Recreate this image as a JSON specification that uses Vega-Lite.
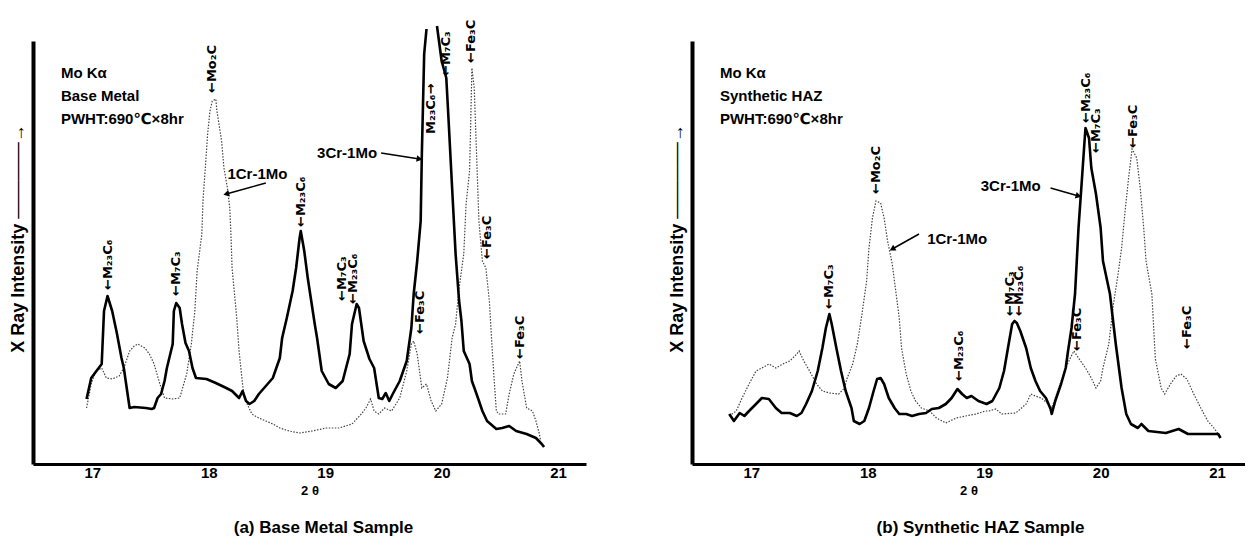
{
"$schema":"https://vega.github.io/schema/vega-lite/v6.json",
"background":"white",
"padding":{"left":9,"top":19,"right":0,"bottom":0},
"spacing":82,
"config":{"view":{"stroke":null},"axis":{"grid":false,"domainColor":"black","titleColor":"black","labelColor":"black","labelFont":"Liberation Sans","titleFont":"Liberation Sans, DejaVu Sans"}},
"datasets":{
"curves":[
{"p":"a","s":"3Cr-1Mo","g":1,"x":16.95,"y":65},{"p":"a","s":"3Cr-1Mo","g":1,"x":16.99,"y":86},{"p":"a","s":"3Cr-1Mo","g":1,"x":17.08,"y":100},{"p":"a","s":"3Cr-1Mo","g":1,"x":17.10,"y":153},{"p":"a","s":"3Cr-1Mo","g":1,"x":17.13,"y":168},{"p":"a","s":"3Cr-1Mo","g":1,"x":17.17,"y":153},{"p":"a","s":"3Cr-1Mo","g":1,"x":17.21,"y":131},{"p":"a","s":"3Cr-1Mo","g":1,"x":17.25,"y":106},{"p":"a","s":"3Cr-1Mo","g":1,"x":17.27,"y":96},{"p":"a","s":"3Cr-1Mo","g":1,"x":17.32,"y":56},{"p":"a","s":"3Cr-1Mo","g":1,"x":17.36,"y":57},{"p":"a","s":"3Cr-1Mo","g":1,"x":17.46,"y":56},{"p":"a","s":"3Cr-1Mo","g":1,"x":17.51,"y":55},{"p":"a","s":"3Cr-1Mo","g":1,"x":17.53,"y":56},{"p":"a","s":"3Cr-1Mo","g":1,"x":17.56,"y":66},{"p":"a","s":"3Cr-1Mo","g":1,"x":17.59,"y":70},{"p":"a","s":"3Cr-1Mo","g":1,"x":17.62,"y":83},{"p":"a","s":"3Cr-1Mo","g":1,"x":17.64,"y":96},{"p":"a","s":"3Cr-1Mo","g":1,"x":17.69,"y":120},{"p":"a","s":"3Cr-1Mo","g":1,"x":17.70,"y":153},{"p":"a","s":"3Cr-1Mo","g":1,"x":17.72,"y":161},{"p":"a","s":"3Cr-1Mo","g":1,"x":17.75,"y":156},{"p":"a","s":"3Cr-1Mo","g":1,"x":17.77,"y":140},{"p":"a","s":"3Cr-1Mo","g":1,"x":17.80,"y":121},{"p":"a","s":"3Cr-1Mo","g":1,"x":17.83,"y":113},{"p":"a","s":"3Cr-1Mo","g":1,"x":17.86,"y":96},{"p":"a","s":"3Cr-1Mo","g":1,"x":17.89,"y":86},{"p":"a","s":"3Cr-1Mo","g":1,"x":17.98,"y":85},{"p":"a","s":"3Cr-1Mo","g":1,"x":18.06,"y":81},{"p":"a","s":"3Cr-1Mo","g":1,"x":18.15,"y":76},{"p":"a","s":"3Cr-1Mo","g":1,"x":18.20,"y":73},{"p":"a","s":"3Cr-1Mo","g":1,"x":18.26,"y":66},{"p":"a","s":"3Cr-1Mo","g":1,"x":18.29,"y":73},{"p":"a","s":"3Cr-1Mo","g":1,"x":18.32,"y":63},{"p":"a","s":"3Cr-1Mo","g":1,"x":18.35,"y":60},{"p":"a","s":"3Cr-1Mo","g":1,"x":18.39,"y":63},{"p":"a","s":"3Cr-1Mo","g":1,"x":18.43,"y":70},{"p":"a","s":"3Cr-1Mo","g":1,"x":18.49,"y":78},{"p":"a","s":"3Cr-1Mo","g":1,"x":18.55,"y":86},{"p":"a","s":"3Cr-1Mo","g":1,"x":18.61,"y":106},{"p":"a","s":"3Cr-1Mo","g":1,"x":18.63,"y":126},{"p":"a","s":"3Cr-1Mo","g":1,"x":18.67,"y":146},{"p":"a","s":"3Cr-1Mo","g":1,"x":18.72,"y":173},{"p":"a","s":"3Cr-1Mo","g":1,"x":18.75,"y":196},{"p":"a","s":"3Cr-1Mo","g":1,"x":18.78,"y":226},{"p":"a","s":"3Cr-1Mo","g":1,"x":18.79,"y":233},{"p":"a","s":"3Cr-1Mo","g":1,"x":18.82,"y":213},{"p":"a","s":"3Cr-1Mo","g":1,"x":18.85,"y":186},{"p":"a","s":"3Cr-1Mo","g":1,"x":18.88,"y":163},{"p":"a","s":"3Cr-1Mo","g":1,"x":18.91,"y":140},{"p":"a","s":"3Cr-1Mo","g":1,"x":18.93,"y":126},{"p":"a","s":"3Cr-1Mo","g":1,"x":18.97,"y":93},{"p":"a","s":"3Cr-1Mo","g":1,"x":19.03,"y":80},{"p":"a","s":"3Cr-1Mo","g":1,"x":19.09,"y":76},{"p":"a","s":"3Cr-1Mo","g":1,"x":19.15,"y":83},{"p":"a","s":"3Cr-1Mo","g":1,"x":19.21,"y":110},{"p":"a","s":"3Cr-1Mo","g":1,"x":19.23,"y":140},{"p":"a","s":"3Cr-1Mo","g":1,"x":19.27,"y":160},{"p":"a","s":"3Cr-1Mo","g":1,"x":19.29,"y":156},{"p":"a","s":"3Cr-1Mo","g":1,"x":19.33,"y":123},{"p":"a","s":"3Cr-1Mo","g":1,"x":19.38,"y":105},{"p":"a","s":"3Cr-1Mo","g":1,"x":19.42,"y":96},{"p":"a","s":"3Cr-1Mo","g":1,"x":19.46,"y":66},{"p":"a","s":"3Cr-1Mo","g":1,"x":19.49,"y":65},{"p":"a","s":"3Cr-1Mo","g":1,"x":19.52,"y":71},{"p":"a","s":"3Cr-1Mo","g":1,"x":19.55,"y":63},{"p":"a","s":"3Cr-1Mo","g":1,"x":19.58,"y":70},{"p":"a","s":"3Cr-1Mo","g":1,"x":19.64,"y":83},{"p":"a","s":"3Cr-1Mo","g":1,"x":19.70,"y":103},{"p":"a","s":"3Cr-1Mo","g":1,"x":19.74,"y":136},{"p":"a","s":"3Cr-1Mo","g":1,"x":19.76,"y":170},{"p":"a","s":"3Cr-1Mo","g":1,"x":19.79,"y":203},{"p":"a","s":"3Cr-1Mo","g":1,"x":19.82,"y":243},{"p":"a","s":"3Cr-1Mo","g":1,"x":19.83,"y":310},{"p":"a","s":"3Cr-1Mo","g":1,"x":19.84,"y":360},{"p":"a","s":"3Cr-1Mo","g":1,"x":19.85,"y":410},{"p":"a","s":"3Cr-1Mo","g":1,"x":19.87,"y":435},
{"p":"a","s":"3Cr-1Mo","g":2,"x":19.96,"y":438},{"p":"a","s":"3Cr-1Mo","g":2,"x":20.00,"y":403},{"p":"a","s":"3Cr-1Mo","g":2,"x":20.04,"y":386},{"p":"a","s":"3Cr-1Mo","g":2,"x":20.06,"y":343},{"p":"a","s":"3Cr-1Mo","g":2,"x":20.09,"y":276},{"p":"a","s":"3Cr-1Mo","g":2,"x":20.12,"y":210},{"p":"a","s":"3Cr-1Mo","g":2,"x":20.15,"y":163},{"p":"a","s":"3Cr-1Mo","g":2,"x":20.17,"y":143},{"p":"a","s":"3Cr-1Mo","g":2,"x":20.19,"y":113},{"p":"a","s":"3Cr-1Mo","g":2,"x":20.24,"y":100},{"p":"a","s":"3Cr-1Mo","g":2,"x":20.26,"y":83},{"p":"a","s":"3Cr-1Mo","g":2,"x":20.30,"y":70},{"p":"a","s":"3Cr-1Mo","g":2,"x":20.35,"y":53},{"p":"a","s":"3Cr-1Mo","g":2,"x":20.39,"y":43},{"p":"a","s":"3Cr-1Mo","g":2,"x":20.47,"y":35},{"p":"a","s":"3Cr-1Mo","g":2,"x":20.52,"y":36},{"p":"a","s":"3Cr-1Mo","g":2,"x":20.58,"y":38},{"p":"a","s":"3Cr-1Mo","g":2,"x":20.64,"y":33},{"p":"a","s":"3Cr-1Mo","g":2,"x":20.73,"y":30},{"p":"a","s":"3Cr-1Mo","g":2,"x":20.81,"y":26},{"p":"a","s":"3Cr-1Mo","g":2,"x":20.86,"y":20},{"p":"a","s":"3Cr-1Mo","g":2,"x":20.88,"y":17},
{"p":"a","s":"1Cr-1Mo","g":1,"x":16.95,"y":56},{"p":"a","s":"1Cr-1Mo","g":1,"x":16.99,"y":80},{"p":"a","s":"1Cr-1Mo","g":1,"x":17.03,"y":93},{"p":"a","s":"1Cr-1Mo","g":1,"x":17.08,"y":96},{"p":"a","s":"1Cr-1Mo","g":1,"x":17.12,"y":86},{"p":"a","s":"1Cr-1Mo","g":1,"x":17.17,"y":85},{"p":"a","s":"1Cr-1Mo","g":1,"x":17.23,"y":88},{"p":"a","s":"1Cr-1Mo","g":1,"x":17.27,"y":96},{"p":"a","s":"1Cr-1Mo","g":1,"x":17.32,"y":113},{"p":"a","s":"1Cr-1Mo","g":1,"x":17.36,"y":118},{"p":"a","s":"1Cr-1Mo","g":1,"x":17.39,"y":120},{"p":"a","s":"1Cr-1Mo","g":1,"x":17.45,"y":116},{"p":"a","s":"1Cr-1Mo","g":1,"x":17.49,"y":110},{"p":"a","s":"1Cr-1Mo","g":1,"x":17.53,"y":100},{"p":"a","s":"1Cr-1Mo","g":1,"x":17.58,"y":80},{"p":"a","s":"1Cr-1Mo","g":1,"x":17.62,"y":66},{"p":"a","s":"1Cr-1Mo","g":1,"x":17.69,"y":65},{"p":"a","s":"1Cr-1Mo","g":1,"x":17.75,"y":66},{"p":"a","s":"1Cr-1Mo","g":1,"x":17.81,"y":90},{"p":"a","s":"1Cr-1Mo","g":1,"x":17.85,"y":120},{"p":"a","s":"1Cr-1Mo","g":1,"x":17.88,"y":153},{"p":"a","s":"1Cr-1Mo","g":1,"x":17.90,"y":193},{"p":"a","s":"1Cr-1Mo","g":1,"x":17.94,"y":230},{"p":"a","s":"1Cr-1Mo","g":1,"x":17.95,"y":263},{"p":"a","s":"1Cr-1Mo","g":1,"x":17.97,"y":296},{"p":"a","s":"1Cr-1Mo","g":1,"x":17.99,"y":330},{"p":"a","s":"1Cr-1Mo","g":1,"x":18.01,"y":353},{"p":"a","s":"1Cr-1Mo","g":1,"x":18.03,"y":363},{"p":"a","s":"1Cr-1Mo","g":1,"x":18.06,"y":365},{"p":"a","s":"1Cr-1Mo","g":1,"x":18.07,"y":353},{"p":"a","s":"1Cr-1Mo","g":1,"x":18.11,"y":323},{"p":"a","s":"1Cr-1Mo","g":1,"x":18.13,"y":296},{"p":"a","s":"1Cr-1Mo","g":1,"x":18.16,"y":276},{"p":"a","s":"1Cr-1Mo","g":1,"x":18.18,"y":256},{"p":"a","s":"1Cr-1Mo","g":1,"x":18.19,"y":230},{"p":"a","s":"1Cr-1Mo","g":1,"x":18.20,"y":196},{"p":"a","s":"1Cr-1Mo","g":1,"x":18.24,"y":146},{"p":"a","s":"1Cr-1Mo","g":1,"x":18.26,"y":113},{"p":"a","s":"1Cr-1Mo","g":1,"x":18.29,"y":80},{"p":"a","s":"1Cr-1Mo","g":1,"x":18.30,"y":70},{"p":"a","s":"1Cr-1Mo","g":1,"x":18.33,"y":60},{"p":"a","s":"1Cr-1Mo","g":1,"x":18.37,"y":50},{"p":"a","s":"1Cr-1Mo","g":1,"x":18.43,"y":46},{"p":"a","s":"1Cr-1Mo","g":1,"x":18.49,"y":43},{"p":"a","s":"1Cr-1Mo","g":1,"x":18.55,"y":40},{"p":"a","s":"1Cr-1Mo","g":1,"x":18.61,"y":36},{"p":"a","s":"1Cr-1Mo","g":1,"x":18.69,"y":33},{"p":"a","s":"1Cr-1Mo","g":1,"x":18.78,"y":31},{"p":"a","s":"1Cr-1Mo","g":1,"x":18.89,"y":33},{"p":"a","s":"1Cr-1Mo","g":1,"x":19.01,"y":36},{"p":"a","s":"1Cr-1Mo","g":1,"x":19.12,"y":36},{"p":"a","s":"1Cr-1Mo","g":1,"x":19.23,"y":40},{"p":"a","s":"1Cr-1Mo","g":1,"x":19.31,"y":50},{"p":"a","s":"1Cr-1Mo","g":1,"x":19.35,"y":56},{"p":"a","s":"1Cr-1Mo","g":1,"x":19.39,"y":65},{"p":"a","s":"1Cr-1Mo","g":1,"x":19.42,"y":53},{"p":"a","s":"1Cr-1Mo","g":1,"x":19.46,"y":50},{"p":"a","s":"1Cr-1Mo","g":1,"x":19.51,"y":56},{"p":"a","s":"1Cr-1Mo","g":1,"x":19.57,"y":53},{"p":"a","s":"1Cr-1Mo","g":1,"x":19.64,"y":66},{"p":"a","s":"1Cr-1Mo","g":1,"x":19.70,"y":93},{"p":"a","s":"1Cr-1Mo","g":1,"x":19.74,"y":120},{"p":"a","s":"1Cr-1Mo","g":1,"x":19.76,"y":123},{"p":"a","s":"1Cr-1Mo","g":1,"x":19.79,"y":110},{"p":"a","s":"1Cr-1Mo","g":1,"x":19.83,"y":76},{"p":"a","s":"1Cr-1Mo","g":1,"x":19.87,"y":80},{"p":"a","s":"1Cr-1Mo","g":1,"x":19.91,"y":63},{"p":"a","s":"1Cr-1Mo","g":1,"x":19.95,"y":53},{"p":"a","s":"1Cr-1Mo","g":1,"x":20.00,"y":60},{"p":"a","s":"1Cr-1Mo","g":1,"x":20.05,"y":86},{"p":"a","s":"1Cr-1Mo","g":1,"x":20.09,"y":126},{"p":"a","s":"1Cr-1Mo","g":1,"x":20.12,"y":140},{"p":"a","s":"1Cr-1Mo","g":1,"x":20.15,"y":176},{"p":"a","s":"1Cr-1Mo","g":1,"x":20.19,"y":210},{"p":"a","s":"1Cr-1Mo","g":1,"x":20.21,"y":260},{"p":"a","s":"1Cr-1Mo","g":1,"x":20.24,"y":293},{"p":"a","s":"1Cr-1Mo","g":1,"x":20.25,"y":343},{"p":"a","s":"1Cr-1Mo","g":1,"x":20.26,"y":396},{"p":"a","s":"1Cr-1Mo","g":1,"x":20.28,"y":376},{"p":"a","s":"1Cr-1Mo","g":1,"x":20.30,"y":310},{"p":"a","s":"1Cr-1Mo","g":1,"x":20.32,"y":243},{"p":"a","s":"1Cr-1Mo","g":1,"x":20.35,"y":203},{"p":"a","s":"1Cr-1Mo","g":1,"x":20.38,"y":196},{"p":"a","s":"1Cr-1Mo","g":1,"x":20.41,"y":163},{"p":"a","s":"1Cr-1Mo","g":1,"x":20.43,"y":123},{"p":"a","s":"1Cr-1Mo","g":1,"x":20.45,"y":86},{"p":"a","s":"1Cr-1Mo","g":1,"x":20.47,"y":53},{"p":"a","s":"1Cr-1Mo","g":1,"x":20.49,"y":50},{"p":"a","s":"1Cr-1Mo","g":1,"x":20.55,"y":50},{"p":"a","s":"1Cr-1Mo","g":1,"x":20.58,"y":70},{"p":"a","s":"1Cr-1Mo","g":1,"x":20.62,"y":90},{"p":"a","s":"1Cr-1Mo","g":1,"x":20.67,"y":103},{"p":"a","s":"1Cr-1Mo","g":1,"x":20.69,"y":83},{"p":"a","s":"1Cr-1Mo","g":1,"x":20.73,"y":56},{"p":"a","s":"1Cr-1Mo","g":1,"x":20.78,"y":53},{"p":"a","s":"1Cr-1Mo","g":1,"x":20.81,"y":43},{"p":"a","s":"1Cr-1Mo","g":1,"x":20.84,"y":30},{"p":"a","s":"1Cr-1Mo","g":1,"x":20.85,"y":23},
{"p":"b","s":"3Cr-1Mo","g":1,"x":16.81,"y":50},{"p":"b","s":"3Cr-1Mo","g":1,"x":16.85,"y":43},{"p":"b","s":"3Cr-1Mo","g":1,"x":16.90,"y":51},{"p":"b","s":"3Cr-1Mo","g":1,"x":16.94,"y":48},{"p":"b","s":"3Cr-1Mo","g":1,"x":16.98,"y":53},{"p":"b","s":"3Cr-1Mo","g":1,"x":17.04,"y":60},{"p":"b","s":"3Cr-1Mo","g":1,"x":17.09,"y":66},{"p":"b","s":"3Cr-1Mo","g":1,"x":17.15,"y":65},{"p":"b","s":"3Cr-1Mo","g":1,"x":17.21,"y":56},{"p":"b","s":"3Cr-1Mo","g":1,"x":17.26,"y":51},{"p":"b","s":"3Cr-1Mo","g":1,"x":17.33,"y":51},{"p":"b","s":"3Cr-1Mo","g":1,"x":17.39,"y":48},{"p":"b","s":"3Cr-1Mo","g":1,"x":17.43,"y":51},{"p":"b","s":"3Cr-1Mo","g":1,"x":17.47,"y":60},{"p":"b","s":"3Cr-1Mo","g":1,"x":17.52,"y":73},{"p":"b","s":"3Cr-1Mo","g":1,"x":17.57,"y":93},{"p":"b","s":"3Cr-1Mo","g":1,"x":17.61,"y":116},{"p":"b","s":"3Cr-1Mo","g":1,"x":17.64,"y":136},{"p":"b","s":"3Cr-1Mo","g":1,"x":17.67,"y":150},{"p":"b","s":"3Cr-1Mo","g":1,"x":17.69,"y":140},{"p":"b","s":"3Cr-1Mo","g":1,"x":17.73,"y":116},{"p":"b","s":"3Cr-1Mo","g":1,"x":17.77,"y":93},{"p":"b","s":"3Cr-1Mo","g":1,"x":17.81,"y":73},{"p":"b","s":"3Cr-1Mo","g":1,"x":17.86,"y":56},{"p":"b","s":"3Cr-1Mo","g":1,"x":17.88,"y":43},{"p":"b","s":"3Cr-1Mo","g":1,"x":17.93,"y":40},{"p":"b","s":"3Cr-1Mo","g":1,"x":17.97,"y":43},{"p":"b","s":"3Cr-1Mo","g":1,"x":18.01,"y":56},{"p":"b","s":"3Cr-1Mo","g":1,"x":18.05,"y":73},{"p":"b","s":"3Cr-1Mo","g":1,"x":18.08,"y":85},{"p":"b","s":"3Cr-1Mo","g":1,"x":18.11,"y":86},{"p":"b","s":"3Cr-1Mo","g":1,"x":18.14,"y":80},{"p":"b","s":"3Cr-1Mo","g":1,"x":18.18,"y":66},{"p":"b","s":"3Cr-1Mo","g":1,"x":18.23,"y":56},{"p":"b","s":"3Cr-1Mo","g":1,"x":18.27,"y":50},{"p":"b","s":"3Cr-1Mo","g":1,"x":18.33,"y":50},{"p":"b","s":"3Cr-1Mo","g":1,"x":18.38,"y":48},{"p":"b","s":"3Cr-1Mo","g":1,"x":18.44,"y":50},{"p":"b","s":"3Cr-1Mo","g":1,"x":18.50,"y":51},{"p":"b","s":"3Cr-1Mo","g":1,"x":18.55,"y":55},{"p":"b","s":"3Cr-1Mo","g":1,"x":18.61,"y":56},{"p":"b","s":"3Cr-1Mo","g":1,"x":18.67,"y":60},{"p":"b","s":"3Cr-1Mo","g":1,"x":18.72,"y":66},{"p":"b","s":"3Cr-1Mo","g":1,"x":18.77,"y":75},{"p":"b","s":"3Cr-1Mo","g":1,"x":18.81,"y":70},{"p":"b","s":"3Cr-1Mo","g":1,"x":18.85,"y":66},{"p":"b","s":"3Cr-1Mo","g":1,"x":18.89,"y":68},{"p":"b","s":"3Cr-1Mo","g":1,"x":18.95,"y":63},{"p":"b","s":"3Cr-1Mo","g":1,"x":19.02,"y":60},{"p":"b","s":"3Cr-1Mo","g":1,"x":19.07,"y":63},{"p":"b","s":"3Cr-1Mo","g":1,"x":19.13,"y":76},{"p":"b","s":"3Cr-1Mo","g":1,"x":19.17,"y":93},{"p":"b","s":"3Cr-1Mo","g":1,"x":19.21,"y":120},{"p":"b","s":"3Cr-1Mo","g":1,"x":19.24,"y":140},{"p":"b","s":"3Cr-1Mo","g":1,"x":19.26,"y":143},{"p":"b","s":"3Cr-1Mo","g":1,"x":19.28,"y":141},{"p":"b","s":"3Cr-1Mo","g":1,"x":19.31,"y":133},{"p":"b","s":"3Cr-1Mo","g":1,"x":19.36,"y":116},{"p":"b","s":"3Cr-1Mo","g":1,"x":19.40,"y":96},{"p":"b","s":"3Cr-1Mo","g":1,"x":19.44,"y":83},{"p":"b","s":"3Cr-1Mo","g":1,"x":19.48,"y":73},{"p":"b","s":"3Cr-1Mo","g":1,"x":19.53,"y":66},{"p":"b","s":"3Cr-1Mo","g":1,"x":19.57,"y":55},{"p":"b","s":"3Cr-1Mo","g":1,"x":19.58,"y":50},{"p":"b","s":"3Cr-1Mo","g":1,"x":19.61,"y":63},{"p":"b","s":"3Cr-1Mo","g":1,"x":19.66,"y":80},{"p":"b","s":"3Cr-1Mo","g":1,"x":19.70,"y":96},{"p":"b","s":"3Cr-1Mo","g":1,"x":19.72,"y":113},{"p":"b","s":"3Cr-1Mo","g":1,"x":19.75,"y":136},{"p":"b","s":"3Cr-1Mo","g":1,"x":19.78,"y":170},{"p":"b","s":"3Cr-1Mo","g":1,"x":19.81,"y":236},{"p":"b","s":"3Cr-1Mo","g":1,"x":19.84,"y":286},{"p":"b","s":"3Cr-1Mo","g":1,"x":19.86,"y":320},{"p":"b","s":"3Cr-1Mo","g":1,"x":19.87,"y":336},{"p":"b","s":"3Cr-1Mo","g":1,"x":19.90,"y":326},{"p":"b","s":"3Cr-1Mo","g":1,"x":19.92,"y":296},{"p":"b","s":"3Cr-1Mo","g":1,"x":19.96,"y":270},{"p":"b","s":"3Cr-1Mo","g":1,"x":20.00,"y":236},{"p":"b","s":"3Cr-1Mo","g":1,"x":20.02,"y":203},{"p":"b","s":"3Cr-1Mo","g":1,"x":20.08,"y":170},{"p":"b","s":"3Cr-1Mo","g":1,"x":20.13,"y":120},{"p":"b","s":"3Cr-1Mo","g":1,"x":20.18,"y":76},{"p":"b","s":"3Cr-1Mo","g":1,"x":20.22,"y":50},{"p":"b","s":"3Cr-1Mo","g":1,"x":20.26,"y":40},{"p":"b","s":"3Cr-1Mo","g":1,"x":20.32,"y":36},{"p":"b","s":"3Cr-1Mo","g":1,"x":20.35,"y":40},{"p":"b","s":"3Cr-1Mo","g":1,"x":20.41,"y":33},{"p":"b","s":"3Cr-1Mo","g":1,"x":20.56,"y":31},{"p":"b","s":"3Cr-1Mo","g":1,"x":20.67,"y":35},{"p":"b","s":"3Cr-1Mo","g":1,"x":20.75,"y":30},{"p":"b","s":"3Cr-1Mo","g":1,"x":20.92,"y":30},{"p":"b","s":"3Cr-1Mo","g":1,"x":21.01,"y":30},{"p":"b","s":"3Cr-1Mo","g":1,"x":21.03,"y":26},
{"p":"b","s":"1Cr-1Mo","g":1,"x":16.81,"y":48},{"p":"b","s":"1Cr-1Mo","g":1,"x":16.87,"y":53},{"p":"b","s":"1Cr-1Mo","g":1,"x":16.92,"y":66},{"p":"b","s":"1Cr-1Mo","g":1,"x":16.98,"y":80},{"p":"b","s":"1Cr-1Mo","g":1,"x":17.04,"y":93},{"p":"b","s":"1Cr-1Mo","g":1,"x":17.09,"y":96},{"p":"b","s":"1Cr-1Mo","g":1,"x":17.15,"y":100},{"p":"b","s":"1Cr-1Mo","g":1,"x":17.21,"y":96},{"p":"b","s":"1Cr-1Mo","g":1,"x":17.27,"y":100},{"p":"b","s":"1Cr-1Mo","g":1,"x":17.33,"y":103},{"p":"b","s":"1Cr-1Mo","g":1,"x":17.39,"y":110},{"p":"b","s":"1Cr-1Mo","g":1,"x":17.41,"y":113},{"p":"b","s":"1Cr-1Mo","g":1,"x":17.45,"y":103},{"p":"b","s":"1Cr-1Mo","g":1,"x":17.50,"y":93},{"p":"b","s":"1Cr-1Mo","g":1,"x":17.56,"y":80},{"p":"b","s":"1Cr-1Mo","g":1,"x":17.61,"y":73},{"p":"b","s":"1Cr-1Mo","g":1,"x":17.67,"y":71},{"p":"b","s":"1Cr-1Mo","g":1,"x":17.75,"y":70},{"p":"b","s":"1Cr-1Mo","g":1,"x":17.80,"y":76},{"p":"b","s":"1Cr-1Mo","g":1,"x":17.82,"y":85},{"p":"b","s":"1Cr-1Mo","g":1,"x":17.87,"y":100},{"p":"b","s":"1Cr-1Mo","g":1,"x":17.91,"y":120},{"p":"b","s":"1Cr-1Mo","g":1,"x":17.95,"y":150},{"p":"b","s":"1Cr-1Mo","g":1,"x":17.99,"y":183},{"p":"b","s":"1Cr-1Mo","g":1,"x":18.01,"y":216},{"p":"b","s":"1Cr-1Mo","g":1,"x":18.04,"y":246},{"p":"b","s":"1Cr-1Mo","g":1,"x":18.07,"y":263},{"p":"b","s":"1Cr-1Mo","g":1,"x":18.11,"y":261},{"p":"b","s":"1Cr-1Mo","g":1,"x":18.14,"y":246},{"p":"b","s":"1Cr-1Mo","g":1,"x":18.17,"y":223},{"p":"b","s":"1Cr-1Mo","g":1,"x":18.21,"y":200},{"p":"b","s":"1Cr-1Mo","g":1,"x":18.24,"y":173},{"p":"b","s":"1Cr-1Mo","g":1,"x":18.27,"y":146},{"p":"b","s":"1Cr-1Mo","g":1,"x":18.29,"y":116},{"p":"b","s":"1Cr-1Mo","g":1,"x":18.33,"y":90},{"p":"b","s":"1Cr-1Mo","g":1,"x":18.37,"y":73},{"p":"b","s":"1Cr-1Mo","g":1,"x":18.41,"y":63},{"p":"b","s":"1Cr-1Mo","g":1,"x":18.46,"y":56},{"p":"b","s":"1Cr-1Mo","g":1,"x":18.53,"y":53},{"p":"b","s":"1Cr-1Mo","g":1,"x":18.59,"y":46},{"p":"b","s":"1Cr-1Mo","g":1,"x":18.67,"y":41},{"p":"b","s":"1Cr-1Mo","g":1,"x":18.76,"y":46},{"p":"b","s":"1Cr-1Mo","g":1,"x":18.84,"y":48},{"p":"b","s":"1Cr-1Mo","g":1,"x":18.93,"y":50},{"p":"b","s":"1Cr-1Mo","g":1,"x":19.01,"y":53},{"p":"b","s":"1Cr-1Mo","g":1,"x":19.04,"y":53},{"p":"b","s":"1Cr-1Mo","g":1,"x":19.10,"y":55},{"p":"b","s":"1Cr-1Mo","g":1,"x":19.15,"y":50},{"p":"b","s":"1Cr-1Mo","g":1,"x":19.27,"y":51},{"p":"b","s":"1Cr-1Mo","g":1,"x":19.36,"y":60},{"p":"b","s":"1Cr-1Mo","g":1,"x":19.40,"y":70},{"p":"b","s":"1Cr-1Mo","g":1,"x":19.44,"y":68},{"p":"b","s":"1Cr-1Mo","g":1,"x":19.49,"y":66},{"p":"b","s":"1Cr-1Mo","g":1,"x":19.54,"y":61},{"p":"b","s":"1Cr-1Mo","g":1,"x":19.58,"y":56},{"p":"b","s":"1Cr-1Mo","g":1,"x":19.64,"y":76},{"p":"b","s":"1Cr-1Mo","g":1,"x":19.70,"y":96},{"p":"b","s":"1Cr-1Mo","g":1,"x":19.74,"y":106},{"p":"b","s":"1Cr-1Mo","g":1,"x":19.77,"y":113},{"p":"b","s":"1Cr-1Mo","g":1,"x":19.81,"y":106},{"p":"b","s":"1Cr-1Mo","g":1,"x":19.87,"y":96},{"p":"b","s":"1Cr-1Mo","g":1,"x":19.92,"y":86},{"p":"b","s":"1Cr-1Mo","g":1,"x":19.96,"y":76},{"p":"b","s":"1Cr-1Mo","g":1,"x":20.00,"y":83},{"p":"b","s":"1Cr-1Mo","g":1,"x":20.02,"y":96},{"p":"b","s":"1Cr-1Mo","g":1,"x":20.07,"y":120},{"p":"b","s":"1Cr-1Mo","g":1,"x":20.11,"y":160},{"p":"b","s":"1Cr-1Mo","g":1,"x":20.15,"y":190},{"p":"b","s":"1Cr-1Mo","g":1,"x":20.18,"y":216},{"p":"b","s":"1Cr-1Mo","g":1,"x":20.21,"y":253},{"p":"b","s":"1Cr-1Mo","g":1,"x":20.24,"y":286},{"p":"b","s":"1Cr-1Mo","g":1,"x":20.27,"y":315},{"p":"b","s":"1Cr-1Mo","g":1,"x":20.31,"y":306},{"p":"b","s":"1Cr-1Mo","g":1,"x":20.34,"y":276},{"p":"b","s":"1Cr-1Mo","g":1,"x":20.37,"y":236},{"p":"b","s":"1Cr-1Mo","g":1,"x":20.39,"y":203},{"p":"b","s":"1Cr-1Mo","g":1,"x":20.44,"y":170},{"p":"b","s":"1Cr-1Mo","g":1,"x":20.47,"y":105},{"p":"b","s":"1Cr-1Mo","g":1,"x":20.52,"y":76},{"p":"b","s":"1Cr-1Mo","g":1,"x":20.55,"y":70},{"p":"b","s":"1Cr-1Mo","g":1,"x":20.60,"y":80},{"p":"b","s":"1Cr-1Mo","g":1,"x":20.65,"y":88},{"p":"b","s":"1Cr-1Mo","g":1,"x":20.69,"y":90},{"p":"b","s":"1Cr-1Mo","g":1,"x":20.74,"y":85},{"p":"b","s":"1Cr-1Mo","g":1,"x":20.80,"y":70},{"p":"b","s":"1Cr-1Mo","g":1,"x":20.86,"y":56},{"p":"b","s":"1Cr-1Mo","g":1,"x":20.92,"y":43},{"p":"b","s":"1Cr-1Mo","g":1,"x":20.98,"y":35},{"p":"b","s":"1Cr-1Mo","g":1,"x":21.01,"y":30}
],
"peaks":[
{"p":"a","x":17.13,"y":174,"t":"←M₂₃C₆"},{"p":"a","x":17.72,"y":168,"t":"←M₇C₃"},{"p":"a","x":18.03,"y":371,"t":"←Mo₂C"},{"p":"a","x":18.79,"y":237,"t":"←M₂₃C₆"},{"p":"a","x":19.14,"y":163,"t":"←M₇C₃"},{"p":"a","x":19.24,"y":160,"t":"←M₂₃C₆"},{"p":"a","x":19.81,"y":130,"t":"←Fe₃C"},{"p":"a","x":19.91,"y":330,"t":"M₂₃C₆→"},{"p":"a","x":20.04,"y":388,"t":"←M₇C₃"},{"p":"a","x":20.25,"y":401,"t":"←Fe₃C"},{"p":"a","x":20.39,"y":205,"t":"←Fe₃C"},{"p":"a","x":20.67,"y":105,"t":"←Fe₃C"},
{"p":"b","x":17.67,"y":155,"t":"←M₇C₃"},{"p":"b","x":18.07,"y":270,"t":"←Mo₂C"},{"p":"b","x":18.78,"y":83,"t":"←M₂₃C₆"},{"p":"b","x":19.22,"y":148,"t":"←M₇C₃"},{"p":"b","x":19.30,"y":148,"t":"←M₂₃C₆"},{"p":"b","x":19.80,"y":113,"t":"←Fe₃C"},{"p":"b","x":19.87,"y":341,"t":"←M₂₃C₆"},{"p":"b","x":19.96,"y":311,"t":"←M₇C₃"},{"p":"b","x":20.28,"y":316,"t":"←Fe₃C"},{"p":"b","x":20.74,"y":115,"t":"←Fe₃C"}
],
"notes":[
{"p":"a","x":16.73,"y":391,"t":"Mo Kα"},{"p":"a","x":16.73,"y":368,"t":"Base Metal"},{"p":"a","x":16.73,"y":345,"t":"PWHT:690℃×8hr"},{"p":"a","x":18.16,"y":290,"t":"1Cr-1Mo"},{"p":"a","x":18.93,"y":311,"t":"3Cr-1Mo"},
{"p":"b","x":16.73,"y":391,"t":"Mo Kα"},{"p":"b","x":16.73,"y":368,"t":"Synthetic HAZ"},{"p":"b","x":16.73,"y":345,"t":"PWHT:690℃×8hr"},{"p":"b","x":18.51,"y":225,"t":"1Cr-1Mo"},{"p":"b","x":18.97,"y":278,"t":"3Cr-1Mo"}
],
"arrows":[
{"p":"a","s":"1Cr-1Mo","x":18.49,"y":281,"x2":18.15,"y2":270},{"p":"a","s":"3Cr-1Mo","x":19.48,"y":311,"x2":19.81,"y2":305},
{"p":"b","s":"1Cr-1Mo","x":18.44,"y":230,"x2":18.21,"y2":215},{"p":"b","s":"3Cr-1Mo","x":19.57,"y":276,"x2":19.81,"y2":268}
],
"heads":[
{"p":"a","s":"1Cr-1Mo","x":18.15,"y":270},{"p":"a","s":"3Cr-1Mo","x":19.81,"y":305},
{"p":"b","s":"1Cr-1Mo","x":18.21,"y":215},{"p":"b","s":"3Cr-1Mo","x":19.81,"y":268}
],
"ticks":[{"x":17},{"x":17.5},{"x":18},{"x":18.5},{"x":19},{"x":19.5},{"x":20},{"x":20.5},{"x":21}]
},
"hconcat":[
{
"width":553,"height":423,
"title":{"text":"(a) Base Metal Sample","orient":"bottom","fontSize":17,"fontWeight":"bold","font":"Liberation Sans","color":"black","dx":14,"offset":23},
"encoding":{
"x":{"field":"x","type":"quantitative","scale":{"domain":[16.49,21.24],"nice":false,"zero":false},"axis":{"values":[17,18,19,20,21],"format":"d","title":"2 θ","titleFontSize":13,"titleFontWeight":"bold","titlePadding":4,"labelFontSize":15,"labelFontWeight":"bold","labelPadding":1,"ticks":false,"domainWidth":3,"labelFlush":false,"labelOverlap":false}},
"y":{"field":"y","type":"quantitative","scale":{"domain":[0,423],"nice":false,"zero":false},"axis":{"ticks":false,"labels":false,"domainWidth":4,"title":"X Ray Intensity     ──────→","titleFontSize":18,"titleFontWeight":"bold","titlePadding":6,"titleY":197}}
},
"layer":[
{"data":{"name":"ticks"},"mark":{"type":"rule","color":"black","strokeWidth":2},"encoding":{"y":{"datum":0},"y2":{"datum":7}}},
{"data":{"name":"curves"},"transform":[{"filter":"datum.p==='a' && datum.s==='1Cr-1Mo'"}],"mark":{"type":"line","color":"#444","strokeWidth":1.2,"strokeDash":[1.5,1.5]},"encoding":{"detail":{"field":"g"}}},
{"data":{"name":"curves"},"transform":[{"filter":"datum.p==='a' && datum.s==='3Cr-1Mo'"}],"mark":{"type":"line","color":"black","strokeWidth":2.6,"strokeJoin":"round"},"encoding":{"detail":{"field":"g"}}},
{"data":{"name":"peaks"},"transform":[{"filter":"datum.p==='a'"}],"mark":{"type":"text","angle":270,"align":"left","baseline":"middle","font":"DejaVu Sans","fontWeight":"bold","fontSize":13,"color":"black"},"encoding":{"text":{"field":"t"}}},
{"data":{"name":"notes"},"transform":[{"filter":"datum.p==='a'"}],"mark":{"type":"text","align":"left","baseline":"middle","font":"Liberation Sans, DejaVu Sans","fontWeight":"bold","fontSize":15,"color":"black"},"encoding":{"text":{"field":"t"}}},
{"data":{"name":"arrows"},"transform":[{"filter":"datum.p==='a'"}],"mark":{"type":"rule","color":"black","strokeWidth":1.5},"encoding":{"x2":{"field":"x2"},"y2":{"field":"y2"}}},
{"data":{"name":"heads"},"transform":[{"filter":"datum.p==='a' && datum.s==='1Cr-1Mo'"}],"mark":{"type":"point","shape":"triangle-left","angle":-15,"filled":true,"size":45,"color":"black","opacity":1}},
{"data":{"name":"heads"},"transform":[{"filter":"datum.p==='a' && datum.s==='3Cr-1Mo'"}],"mark":{"type":"point","shape":"triangle-right","angle":9,"filled":true,"size":45,"color":"black","opacity":1}}
]
},
{
"width":553,"height":423,
"title":{"text":"(b) Synthetic HAZ Sample","orient":"bottom","fontSize":17,"fontWeight":"bold","font":"Liberation Sans","color":"black","dx":12,"offset":23},
"encoding":{
"x":{"field":"x","type":"quantitative","scale":{"domain":[16.49,21.24],"nice":false,"zero":false},"axis":{"values":[17,18,19,20,21],"format":"d","title":"2 θ","titleFontSize":13,"titleFontWeight":"bold","titlePadding":4,"labelFontSize":15,"labelFontWeight":"bold","labelPadding":1,"ticks":false,"domainWidth":3,"labelFlush":false,"labelOverlap":false}},
"y":{"field":"y","type":"quantitative","scale":{"domain":[0,423],"nice":false,"zero":false},"axis":{"ticks":false,"labels":false,"domainWidth":4,"title":"X Ray Intensity     ──────→","titleFontSize":18,"titleFontWeight":"bold","titlePadding":6,"titleY":197}}
},
"layer":[
{"data":{"name":"ticks"},"mark":{"type":"rule","color":"black","strokeWidth":2},"encoding":{"y":{"datum":0},"y2":{"datum":7}}},
{"data":{"name":"curves"},"transform":[{"filter":"datum.p==='b' && datum.s==='1Cr-1Mo'"}],"mark":{"type":"line","color":"#444","strokeWidth":1.2,"strokeDash":[1.5,1.5]},"encoding":{"detail":{"field":"g"}}},
{"data":{"name":"curves"},"transform":[{"filter":"datum.p==='b' && datum.s==='3Cr-1Mo'"}],"mark":{"type":"line","color":"black","strokeWidth":2.6,"strokeJoin":"round"},"encoding":{"detail":{"field":"g"}}},
{"data":{"name":"peaks"},"transform":[{"filter":"datum.p==='b'"}],"mark":{"type":"text","angle":270,"align":"left","baseline":"middle","font":"DejaVu Sans","fontWeight":"bold","fontSize":13,"color":"black"},"encoding":{"text":{"field":"t"}}},
{"data":{"name":"notes"},"transform":[{"filter":"datum.p==='b'"}],"mark":{"type":"text","align":"left","baseline":"middle","font":"Liberation Sans, DejaVu Sans","fontWeight":"bold","fontSize":15,"color":"black"},"encoding":{"text":{"field":"t"}}},
{"data":{"name":"arrows"},"transform":[{"filter":"datum.p==='b'"}],"mark":{"type":"rule","color":"black","strokeWidth":1.5},"encoding":{"x2":{"field":"x2"},"y2":{"field":"y2"}}},
{"data":{"name":"heads"},"transform":[{"filter":"datum.p==='b' && datum.s==='1Cr-1Mo'"}],"mark":{"type":"point","shape":"triangle-left","angle":-29,"filled":true,"size":45,"color":"black","opacity":1}},
{"data":{"name":"heads"},"transform":[{"filter":"datum.p==='b' && datum.s==='3Cr-1Mo'"}],"mark":{"type":"point","shape":"triangle-right","angle":16,"filled":true,"size":45,"color":"black","opacity":1}}
]
}
]
}
